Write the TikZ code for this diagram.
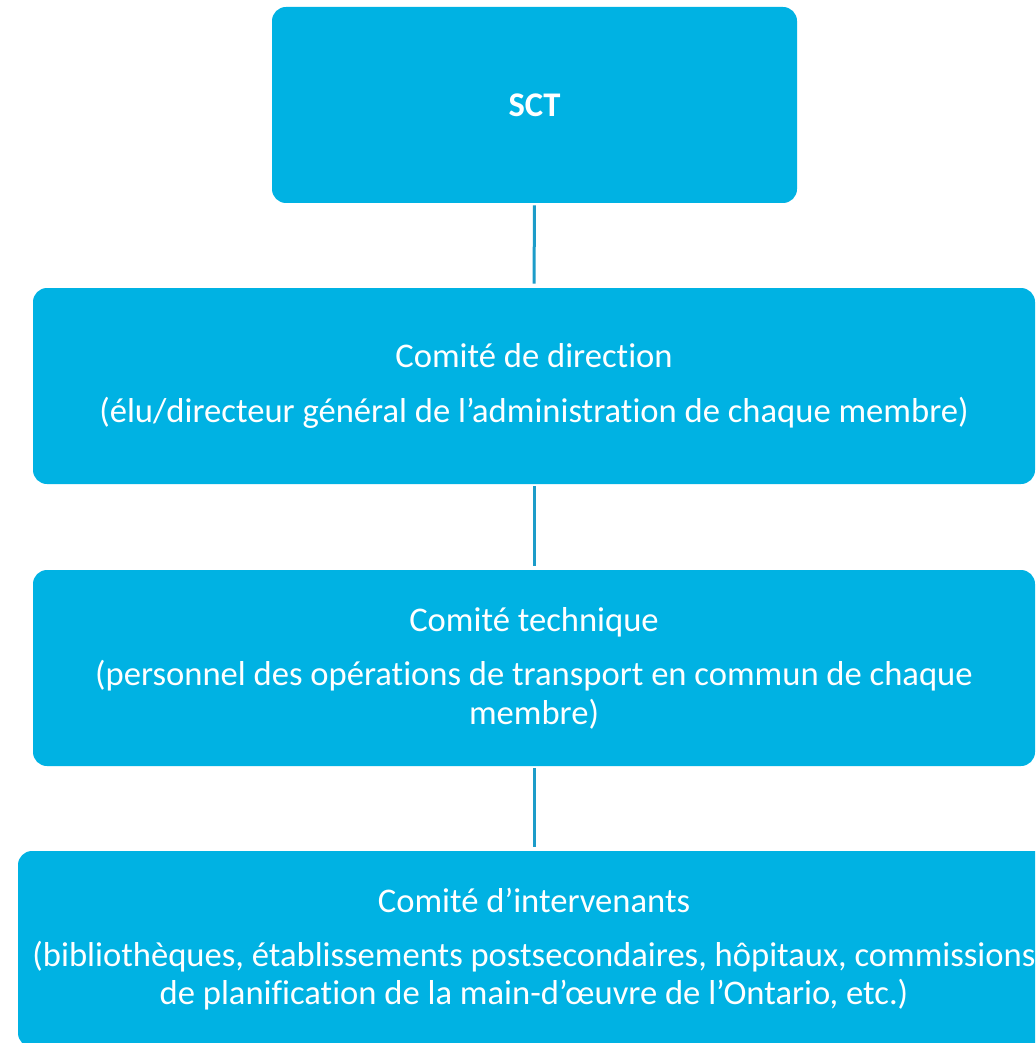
\documentclass[tikz,border=0pt]{standalone}
\usepackage{fontspec}
\setmainfont{Carlito}[Ligatures=CommonOff]
\definecolor{boxblue}{HTML}{00B2E3}
\definecolor{linkblue}{HTML}{1C9CC9}
\tikzset{
 orgbox/.style={fill=boxblue,rounded corners=7pt,text=white,align=center,inner sep=0pt,
   font=\fontsize{17.3}{19.2}\selectfont},
 orglink/.style={draw=linkblue,line width=1.5pt,shorten <=1pt,shorten >=2pt}
}
\begin{document}
\begin{tikzpicture}[x=0.5pt,y=-0.5pt]
 \useasboundingbox (0,0) rectangle (1035,1043);
 \clip (0,0) rectangle (1035,1043);
 % boxes
 \node[orgbox,minimum width=262.5pt,minimum height=98pt] (sct) at (534.5,105) {\bfseries SCT};
 \node[orgbox,minimum width=501pt,minimum height=98pt] (direction) at (534,386)
   {Comité de direction\\[8pt]
    (élu/directeur général de l’administration de chaque membre)};
 \node[orgbox,minimum width=501pt,minimum height=98pt] (technique) at (534,668)
   {Comité technique\\[8pt]
    (personnel des opérations de transport en commun de chaque\\
    membre)};
 \node[orgbox,minimum width=516pt,minimum height=98pt] (intervenants) at (534,949)
   {Comité d’intervenants\\[8pt]
    (bibliothèques, établissements postsecondaires, hôpitaux, commissions\\
    de planification de la main-d’œuvre de l’Ontario, etc.)};
 % links
 \draw[orglink] (sct.south) -- (direction.north);
 \draw[orglink] (direction.south) -- (technique.north);
 \draw[orglink] (technique.south) -- (intervenants.north);
\end{tikzpicture}
\end{document}
